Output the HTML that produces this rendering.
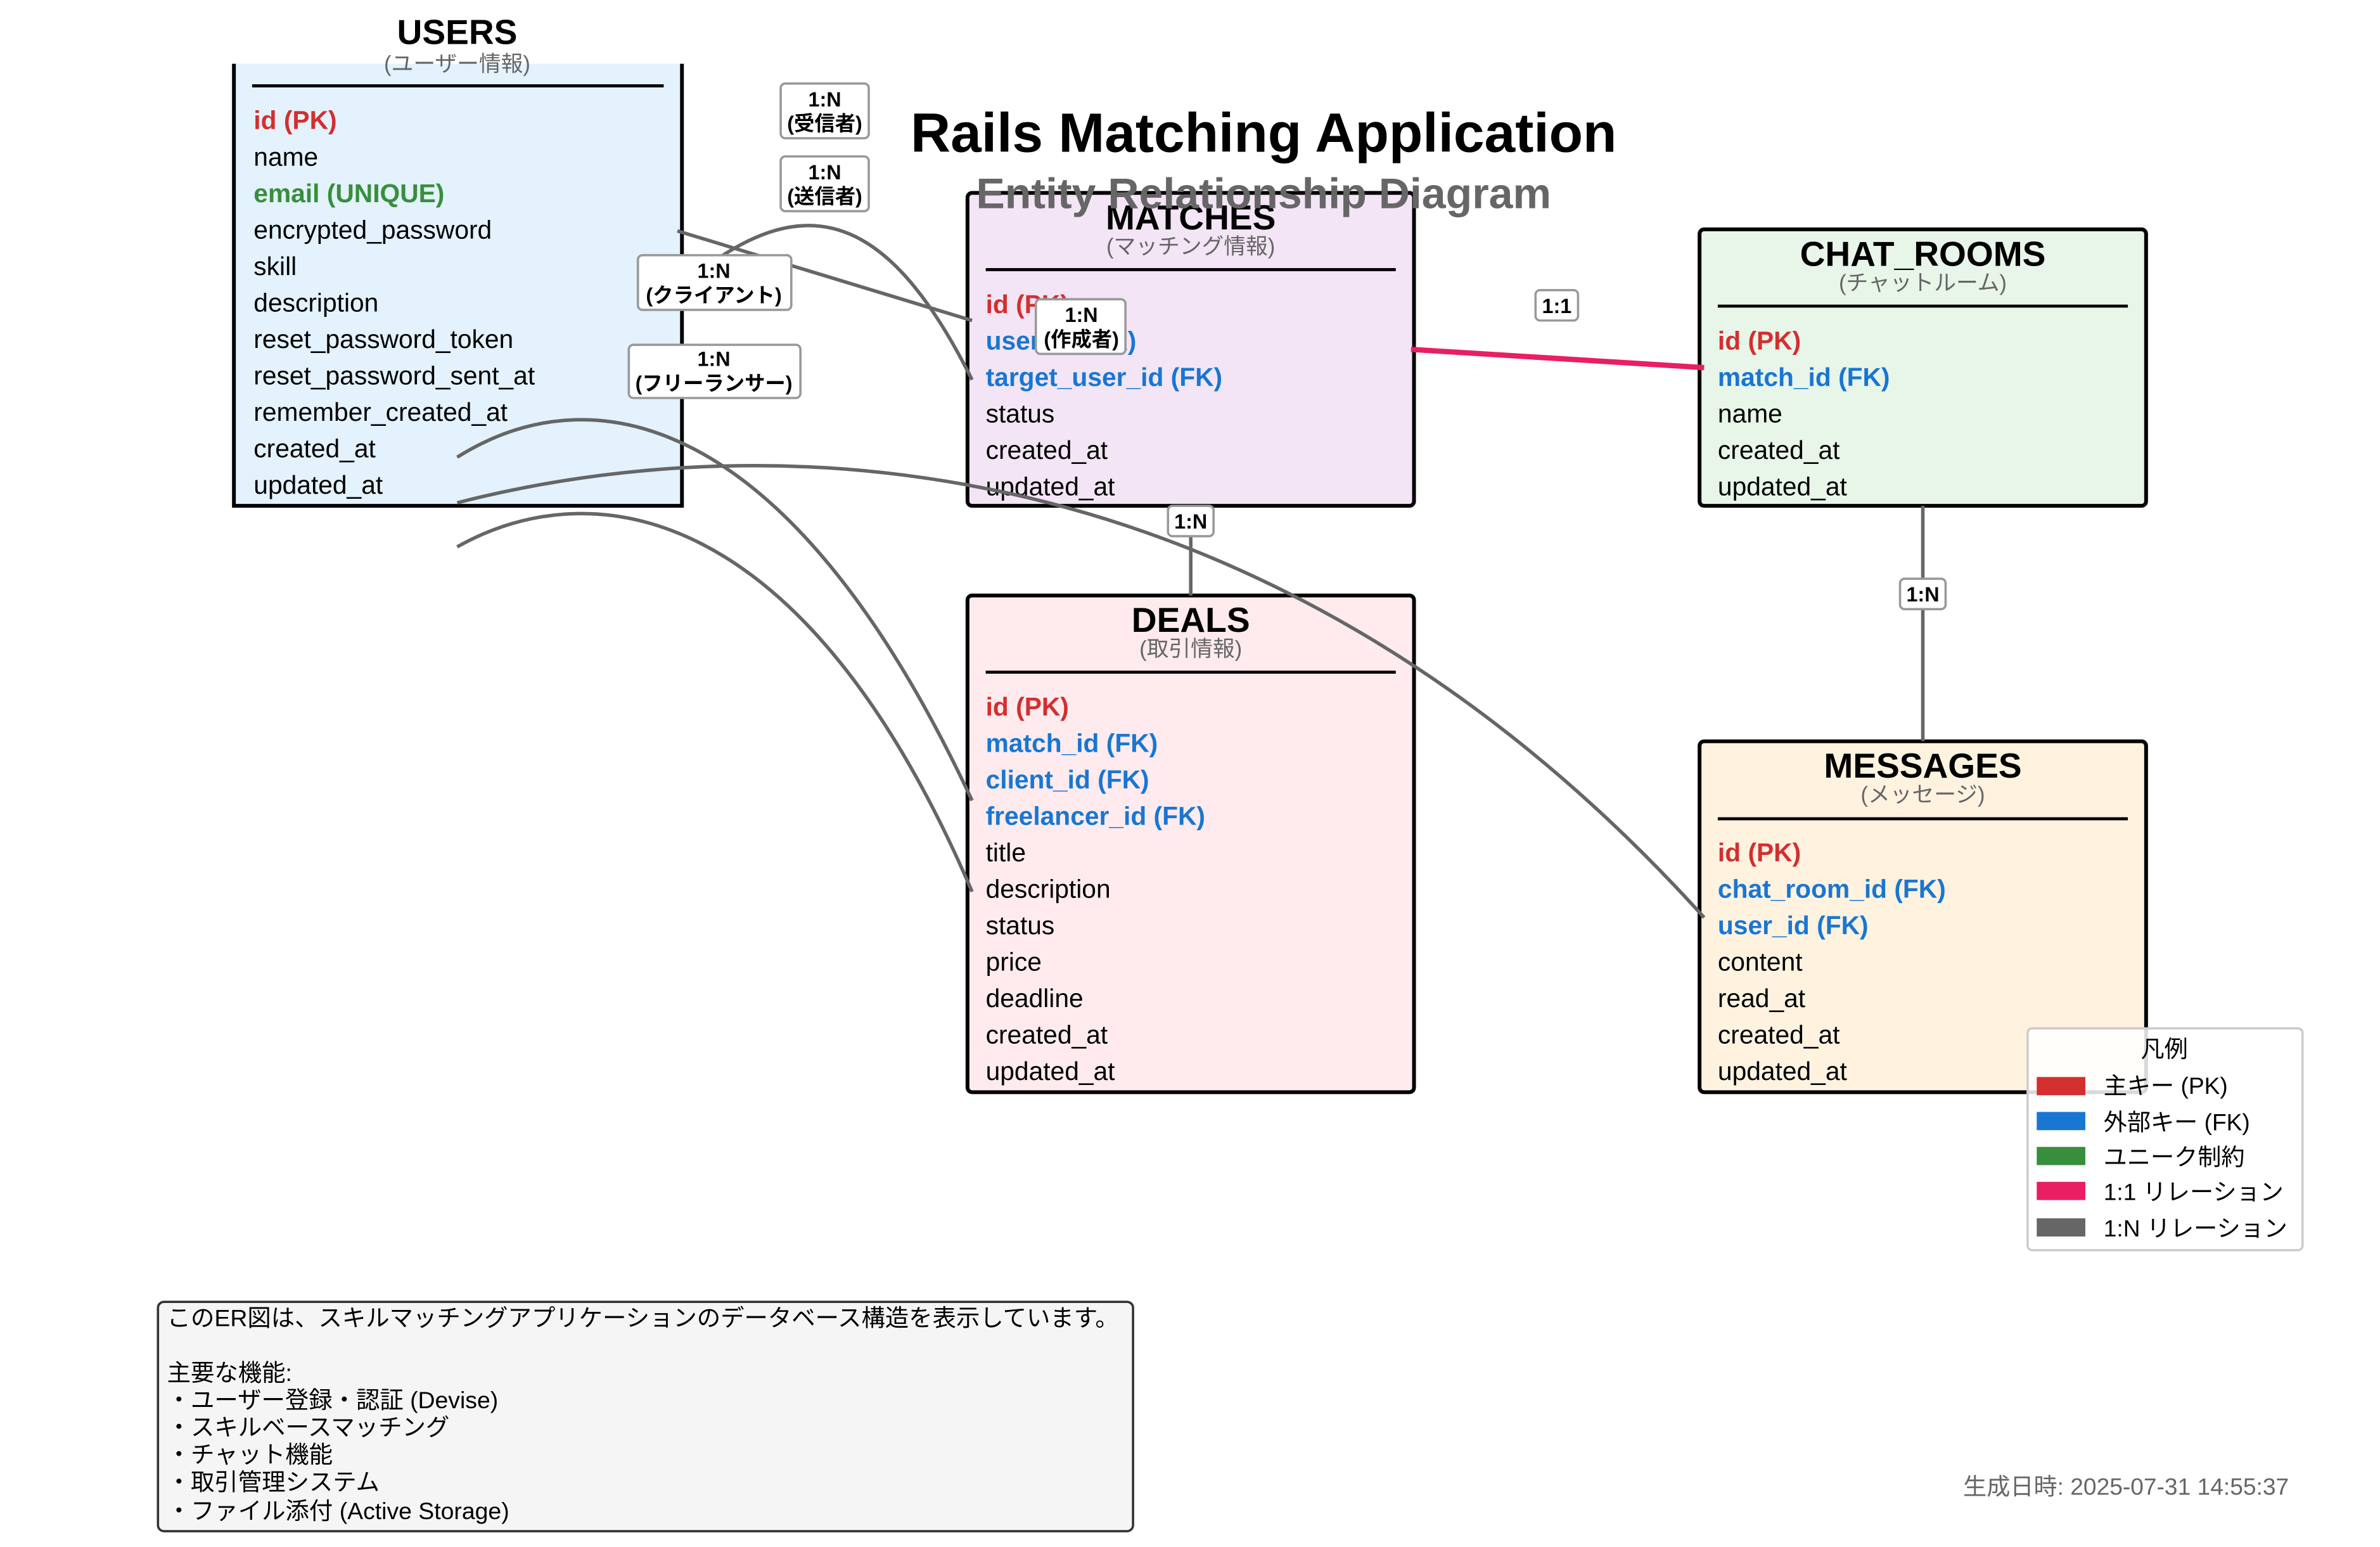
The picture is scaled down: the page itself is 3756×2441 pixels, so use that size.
<!DOCTYPE html>
<html><head><meta charset="utf-8"><style>
html,body{margin:0;padding:0;background:#fff;}
svg{display:block;}
text{font-family:"Liberation Sans","Noto Sans CJK JP",sans-serif;}
.t{font-size:23px;font-weight:bold;text-anchor:middle;fill:#000;}
.s{font-size:14.5px;text-anchor:middle;fill:#666;}
.f{font-size:17px;fill:#000;}
.pk{fill:#d32f2f;font-weight:bold;}
.fk{fill:#1976d2;font-weight:bold;}
.uq{fill:#388e3c;font-weight:bold;}
.lb{font-size:13.5px;font-weight:bold;text-anchor:middle;fill:#000;}
.lbox{fill:#fff;stroke:#999;stroke-width:1.5;}
.c{fill:none;stroke:#666;stroke-width:2.3;}
</style></head><body>
<svg width="3756" height="2441" viewBox="0 0 1567 1018.4" xmlns="http://www.w3.org/2000/svg">
<!-- USERS -->
<rect x="154" y="42" width="295" height="291" fill="#E3F2FD"/>
<path d="M154,42 V333 H449 V42" fill="none" stroke="#000" stroke-width="2.5"/>
<text class="t" x="301" y="29">USERS</text>
<text class="s" x="301" y="47">(ユーザー情報)</text>
<line x1="166" y1="56.5" x2="437" y2="56.5" stroke="#000" stroke-width="2"/>
<text x="167" y="85" class="f pk">id (PK)</text>
<text x="167" y="109" class="f">name</text>
<text x="167" y="133" class="f uq">email (UNIQUE)</text>
<text x="167" y="157" class="f">encrypted_password</text>
<text x="167" y="181" class="f">skill</text>
<text x="167" y="205" class="f">description</text>
<text x="167" y="229" class="f">reset_password_token</text>
<text x="167" y="253" class="f">reset_password_sent_at</text>
<text x="167" y="277" class="f">remember_created_at</text>
<text x="167" y="301" class="f">created_at</text>
<text x="167" y="325" class="f">updated_at</text>
<!-- MATCHES -->
<rect x="637" y="127" width="294" height="206" rx="3" fill="#F3E5F5" stroke="#000" stroke-width="2.5"/>
<text class="t" x="784" y="151">MATCHES</text>
<text class="s" x="784" y="167">(マッチング情報)</text>
<line x1="649" y1="177.5" x2="919" y2="177.5" stroke="#000" stroke-width="2"/>
<text x="649" y="206" class="f pk">id (PK)</text>
<text x="649" y="230" class="f fk">user_id (FK)</text>
<text x="649" y="254" class="f fk">target_user_id (FK)</text>
<text x="649" y="278" class="f">status</text>
<text x="649" y="302" class="f">created_at</text>
<text x="649" y="326" class="f">updated_at</text>
<!-- CHAT_ROOMS -->
<rect x="1119" y="151" width="294" height="182" rx="3" fill="#E8F5E9" stroke="#000" stroke-width="2.5"/>
<text class="t" x="1266" y="175">CHAT_ROOMS</text>
<text class="s" x="1266" y="191">(チャットルーム)</text>
<line x1="1131" y1="201.5" x2="1401" y2="201.5" stroke="#000" stroke-width="2"/>
<text x="1131" y="230" class="f pk">id (PK)</text>
<text x="1131" y="254" class="f fk">match_id (FK)</text>
<text x="1131" y="278" class="f">name</text>
<text x="1131" y="302" class="f">created_at</text>
<text x="1131" y="326" class="f">updated_at</text>
<!-- DEALS -->
<rect x="637" y="392" width="294" height="327" rx="3" fill="#FFEBEE" stroke="#000" stroke-width="2.5"/>
<text class="t" x="784" y="416">DEALS</text>
<text class="s" x="784" y="432">(取引情報)</text>
<line x1="649" y1="442.5" x2="919" y2="442.5" stroke="#000" stroke-width="2"/>
<text x="649" y="471" class="f pk">id (PK)</text>
<text x="649" y="495" class="f fk">match_id (FK)</text>
<text x="649" y="519" class="f fk">client_id (FK)</text>
<text x="649" y="543" class="f fk">freelancer_id (FK)</text>
<text x="649" y="567" class="f">title</text>
<text x="649" y="591" class="f">description</text>
<text x="649" y="615" class="f">status</text>
<text x="649" y="639" class="f">price</text>
<text x="649" y="663" class="f">deadline</text>
<text x="649" y="687" class="f">created_at</text>
<text x="649" y="711" class="f">updated_at</text>
<!-- MESSAGES -->
<rect x="1119" y="488" width="294" height="231" rx="3" fill="#FFF3E0" stroke="#000" stroke-width="2.5"/>
<text class="t" x="1266" y="512">MESSAGES</text>
<text class="s" x="1266" y="528">(メッセージ)</text>
<line x1="1131" y1="539" x2="1401" y2="539" stroke="#000" stroke-width="2"/>
<text x="1131" y="567" class="f pk">id (PK)</text>
<text x="1131" y="591" class="f fk">chat_room_id (FK)</text>
<text x="1131" y="615" class="f fk">user_id (FK)</text>
<text x="1131" y="639" class="f">content</text>
<text x="1131" y="663" class="f">read_at</text>
<text x="1131" y="687" class="f">created_at</text>
<text x="1131" y="711" class="f">updated_at</text>
<!-- Title -->
<text x="832" y="100" style="font-size:36.5px;font-weight:bold;text-anchor:middle;fill:#000">Rails Matching Application</text>
<text x="832" y="137" style="font-size:28.4px;font-weight:bold;text-anchor:middle;fill:#666">Entity Relationship Diagram</text>
<!-- Connectors -->
<line class="c" x1="446" y1="152" x2="640" y2="211"/>
<path class="c" d="M473,170 C540,125 590,150 640,250"/>
<path class="c" d="M301,301 C390,245 520,270 640,527"/>
<path class="c" d="M301,331 C480,285 820,270 1122,604"/>
<path class="c" d="M301,360 C390,310 530,330 640,587"/>
<line class="c" x1="784" y1="333" x2="784" y2="392"/>
<line class="c" x1="1266" y1="333" x2="1266" y2="488"/>
<line x1="929" y1="230" x2="1122" y2="242" stroke="#E91E63" stroke-width="3.5"/>
<!-- Labels -->
<rect class="lbox" x="514" y="55" width="58" height="36" rx="3"/>
<text class="lb" x="543" y="70">1:N</text><text class="lb" x="543" y="86">(受信者)</text>
<rect class="lbox" x="514" y="103" width="58" height="36" rx="3"/>
<text class="lb" x="543" y="118">1:N</text><text class="lb" x="543" y="134">(送信者)</text>
<rect class="lbox" x="420" y="168" width="101" height="36" rx="3"/>
<text class="lb" x="470" y="183">1:N</text><text class="lb" x="470" y="199">(クライアント)</text>
<rect class="lbox" x="414" y="227" width="113" height="35" rx="3"/>
<text class="lb" x="470" y="241">1:N</text><text class="lb" x="470" y="257">(フリーランサー)</text>
<rect class="lbox" x="682" y="197" width="59" height="36" rx="3"/>
<text class="lb" x="712" y="212">1:N</text><text class="lb" x="712" y="228">(作成者)</text>
<rect class="lbox" x="1011" y="191" width="28" height="20" rx="3"/>
<text class="lb" x="1025" y="206">1:1</text>
<rect class="lbox" x="769" y="333" width="30" height="20" rx="3"/>
<text class="lb" x="784" y="348">1:N</text>
<rect class="lbox" x="1251" y="381" width="30" height="20" rx="3"/>
<text class="lb" x="1266" y="396">1:N</text>
<!-- Legend -->
<rect x="1335" y="677" width="181" height="146" rx="3" fill="#fff" fill-opacity="0.85" stroke="#ccc" stroke-width="1.5"/>
<text x="1425" y="696" style="font-size:15.5px;text-anchor:middle">凡例</text>
<g style="font-size:15.5px">
<rect x="1341" y="709" width="32" height="12" fill="#d32f2f"/><text x="1385" y="720">主キー (PK)</text>
<rect x="1341" y="732" width="32" height="12" fill="#1976d2"/><text x="1385" y="744">外部キー (FK)</text>
<rect x="1341" y="755" width="32" height="12" fill="#388e3c"/><text x="1385" y="767">ユニーク制約</text>
<rect x="1341" y="778" width="32" height="12" fill="#E91E63"/><text x="1385" y="790">1:1 リレーション</text>
<rect x="1341" y="802" width="32" height="12" fill="#666"/><text x="1385" y="814">1:N リレーション</text>
</g>
<!-- Footer -->
<rect x="104" y="857" width="642" height="151" rx="4" fill="#f5f5f5" stroke="#333" stroke-width="1.5"/>
<g style="font-size:15.6px">
<text x="110" y="873">このER図は、スキルマッチングアプリケーションのデータベース構造を表示しています。</text>
<text x="110" y="909">主要な機能:</text>
<text x="110" y="927">・ユーザー登録・認証 (Devise)</text>
<text x="110" y="945">・スキルベースマッチング</text>
<text x="110" y="963">・チャット機能</text>
<text x="110" y="981">・取引管理システム</text>
<text x="110" y="1000">・ファイル添付 (Active Storage)</text>
</g>
<text x="1507" y="984" style="font-size:15.5px;text-anchor:end;fill:#666">生成日時: 2025-07-31 14:55:37</text>
</svg>
</body></html>
